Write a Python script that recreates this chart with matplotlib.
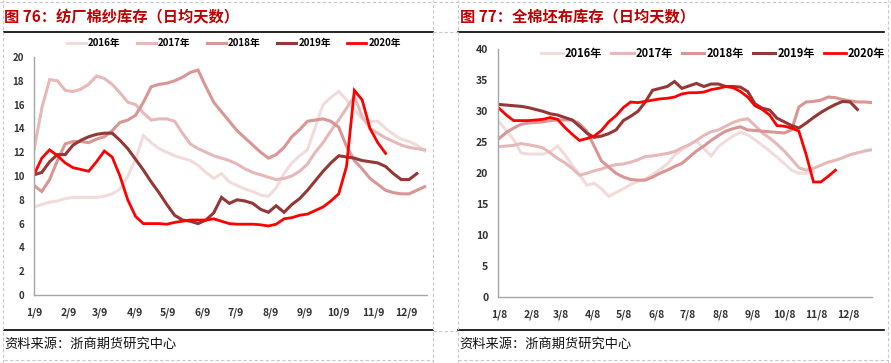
import matplotlib
matplotlib.use("Agg")
import matplotlib.pyplot as plt
from matplotlib.lines import Line2D
import numpy as np

plt.rcParams['font.family'] = ['Noto Sans CJK SC', 'DejaVu Sans']

# 图76 织厂棉纱库存，每周一个点，从 1/9 开始
yarn_2016 = [7.4, 7.6, 7.8, 7.9, 8.1, 8.2, 8.2, 8.2, 8.2, 8.3, 8.5, 8.9, 10.0, 11.4, 13.4, 12.8, 12.3, 12.0, 11.7, 11.5,
             11.3, 10.9, 10.3, 9.8, 10.2, 9.5, 9.2, 8.9, 8.7, 8.4, 8.3, 9.0, 10.2, 11.1, 11.7, 12.2, 14.1, 16.0, 16.6, 17.1,
             16.4, 15.6, 14.8, 14.6, 14.6, 14.0, 13.5, 13.1, 12.9, 12.6, 12.1]
yarn_2017 = [12.2, 15.7, 18.1, 18.0, 17.2, 17.1, 17.3, 17.7, 18.4, 18.2, 17.7, 17.0, 16.2, 16.0, 15.3, 14.7, 14.8, 14.8, 14.6, 13.6,
             12.7, 12.3, 12.0, 11.7, 11.5, 11.3, 11.0, 10.6, 10.3, 10.1, 9.9, 9.7, 9.8, 10.0, 10.4, 11.0, 12.0, 12.8, 13.8, 14.7,
             15.7, 16.7, 15.0, 14.0, 13.6, 13.2, 12.9, 12.6, 12.4, 12.3, 12.2]
yarn_2018 = [9.2, 8.7, 9.7, 11.3, 12.7, 12.9, 12.9, 12.8, 13.1, 13.3, 13.8, 14.5, 14.7, 15.1, 16.2, 17.5, 17.7, 17.8, 18.0, 18.3,
             18.7, 18.9, 17.5, 16.2, 15.4, 14.6, 13.8, 13.2, 12.6, 12.0, 11.5, 11.8, 12.4, 13.3, 13.9, 14.6, 14.7, 14.8, 14.6, 14.1,
             12.5, 11.3, 10.6, 9.8, 9.3, 8.8, 8.6, 8.5, 8.5, 8.8, 9.1]
yarn_2019 = [10.1, 10.3, 11.2, 11.8, 11.8, 12.6, 13.0, 13.3, 13.5, 13.6, 13.6, 13.0, 12.3, 11.4, 10.5, 9.5, 8.6, 7.6, 6.7, 6.3,
             6.2, 6.0, 6.3, 6.9, 8.2, 7.7, 8.0, 7.9, 7.7, 7.2, 6.95, 7.5, 6.95, 7.6, 8.1, 8.8, 9.6, 10.4, 11.1, 11.7,
             11.6, 11.5, 11.3, 11.2, 11.1, 10.8, 10.2, 9.7, 9.7, 10.2]
yarn_2020 = [10.1, 11.5, 12.2, 11.7, 11.1, 10.7, 10.55, 10.4, 11.2, 12.1, 11.6, 10.0, 8.0, 6.6, 6.0, 6.0, 6.0, 5.95, 6.1, 6.2,
             6.3, 6.3, 6.3, 6.4, 6.2, 6.0, 5.95, 5.95, 5.95, 5.9, 5.8, 5.95, 6.4, 6.5, 6.7, 6.8, 7.1, 7.4, 7.9, 8.5,
             10.8, 17.2, 16.4, 14.0, 12.8, 11.9]

# 图77 全棉坯布库存，每周一个点，从 1/8 开始
cloth_2016 = [28.3, 26.9, 25.4, 23.3, 23.1, 23.1, 23.1, 23.5, 24.4, 23.0, 21.3, 19.8, 18.1, 18.4, 17.5, 16.3, 16.9, 17.5, 18.2, 18.7,
              19.1, 19.8, 20.6, 21.5, 22.9, 23.8, 24.6, 25.2, 24.0, 22.8, 24.3, 25.2, 26.0, 26.6, 26.2, 25.4, 24.5, 23.6, 22.6, 21.6,
              20.5, 20.0, 20.0, 20.3]
cloth_2017 = [24.3, 24.4, 24.5, 24.8, 24.6, 24.4, 24.1, 23.3, 22.4, 21.7, 20.8, 19.7, 20.0, 20.4, 20.7, 21.1, 21.4, 21.5, 21.8, 22.2,
              22.7, 22.8, 23.0, 23.2, 23.5, 24.1, 24.6, 25.3, 26.1, 26.7, 27.0, 27.6, 28.2, 28.6, 28.8, 27.7, 26.5, 25.7, 24.7, 23.6,
              22.3, 20.9, 20.5, 20.8, 21.3, 21.8, 22.1, 22.5, 23.0, 23.3, 23.6, 23.8]
cloth_2018 = [25.6, 26.6, 27.3, 27.9, 28.1, 28.2, 28.3, 28.5, 28.6, 28.6, 28.6, 28.0, 26.8, 24.4, 22.0, 21.0, 20.0, 19.4, 19.0, 18.9,
              18.9, 19.4, 20.0, 20.5, 21.1, 21.6, 22.6, 23.6, 24.4, 25.3, 26.1, 26.8, 27.2, 27.5, 27.0, 26.9, 26.8, 26.7, 26.6, 26.5,
              27.0, 30.7, 31.5, 31.6, 31.8, 32.3, 32.2, 31.9, 31.7, 31.5, 31.5, 31.4]
cloth_2019 = [31.1, 31.0, 30.9, 30.8, 30.6, 30.3, 30.0, 29.6, 29.4, 29.0, 28.6, 27.6, 26.5, 25.8, 26.0, 26.4, 27.0, 28.5, 29.2, 30.0,
              31.5, 33.4, 33.7, 34.0, 34.8, 33.7, 34.1, 34.5, 34.0, 34.4, 34.4, 34.0, 34.0, 33.9, 33.2, 31.2, 30.5, 30.2, 28.9, 28.3,
              27.7, 27.3, 28.1, 29.0, 29.8, 30.5, 31.1, 31.6, 31.5, 30.3]
cloth_2020 = [30.5, 29.4, 28.5, 28.5, 28.5, 28.6, 28.7, 29.0, 28.7, 27.4, 26.3, 25.3, 25.6, 26.0, 26.9, 28.3, 29.3, 30.6, 31.5, 31.4,
              31.6, 31.8, 32.0, 32.1, 32.3, 32.8, 33.0, 33.0, 33.1, 33.5, 33.7, 34.0, 33.8, 33.2, 32.3, 30.9, 30.3, 29.4, 27.7, 27.6,
              27.3, 26.8, 23.0, 18.6, 18.6, 19.5, 20.5]

years = ["2016年", "2017年", "2018年", "2019年", "2020年"]
colors = ["#F2DCDB", "#E6B9B8", "#D99694", "#953735", "#FF0000"]
month_days = [0, 31, 59, 90, 120, 151, 181, 212, 243, 273, 304, 334]
labels_76 = ["1/9", "2/9", "3/9", "4/9", "5/9", "6/9", "7/9", "8/9", "9/9", "10/9", "11/9", "12/9"]
labels_77 = ["1/8", "2/8", "3/8", "4/8", "5/8", "6/8", "7/8", "8/8", "9/8", "10/8", "11/8", "12/8"]

W, H = 891, 363
fig = plt.figure(figsize=(W / 100, H / 100), dpi=100)


def fx(px):
    return px / W


def fy(py):
    return 1 - py / H


def draw_panel(rect, series, ylim, yticks, xlim, xlabels, ysize, xsize):
    ax = fig.add_axes(rect)
    handles = []
    for s, c in zip(series, colors):
        x = np.arange(len(s))
        lw = 2.0 if c == "#FF0000" else 2.2
        h, = ax.plot(x, s, color=c, lw=lw, solid_joinstyle='miter')
        handles.append(h)
    ax.set_xlim(*xlim)
    ax.set_ylim(*ylim)
    ax.set_yticks(yticks)
    ax.set_xticks(np.array(month_days) / 7)
    ax.set_xticklabels(xlabels)
    for sp in ["top", "right"]:
        ax.spines[sp].set_visible(False)
    for sp in ["left", "bottom"]:
        ax.spines[sp].set_color("#A6A6A6")
        ax.spines[sp].set_linewidth(1.0)
    ax.tick_params(axis='y', length=0, pad=7, labelsize=ysize, colors="#333333")
    ax.tick_params(axis='x', length=0, pad=9, labelsize=xsize, colors="#333333")
    for t in ax.get_xticklabels() + ax.get_yticklabels():
        t.set_fontweight("bold")
    return ax, handles


ax1, h1 = draw_panel([fx(34), fy(295), fx(427) - fx(34), fy(57) - fy(295)],
                     [yarn_2016, yarn_2017, yarn_2018, yarn_2019, yarn_2020],
                     (0, 20), range(0, 21, 2), (0, 50.3), labels_76, 7, 7.5)
ax2, h2 = draw_panel([fx(498), fy(297.3), fx(872) - fx(498), fy(49.3) - fy(297.3)],
                     [cloth_2016, cloth_2017, cloth_2018, cloth_2019, cloth_2020],
                     (0, 40), range(0, 41, 5), (-0.14, 51.0), labels_77, 7.5, 7.5)

leg1 = fig.legend(h1, years, loc='center', bbox_to_anchor=(fx(234), fy(43)), ncol=5, frameon=False,
                  handlelength=1.9, handletextpad=0.25, columnspacing=1.7,
                  prop={'size': 7, 'weight': 'bold'})
leg2 = fig.legend(h2, years, loc='center', bbox_to_anchor=(fx(713), fy(53)), ncol=5, frameon=False,
                  handlelength=2.0, handletextpad=0.2, columnspacing=0.8,
                  prop={'size': 8, 'weight': 'bold'})

# 标题
fig.text(fx(4), fy(17), "图 76：纺厂棉纱库存（日均天数）", color="#C00000", fontsize=11,
         fontweight="bold", va="center", ha="left")
fig.text(fx(460), fy(16), "图 77：全棉坯布库存（日均天数）", color="#C00000", fontsize=11,
         fontweight="bold", va="center", ha="left")

# 来源
fig.text(fx(4), fy(344), "资料来源：浙商期货研究中心", fontsize=9.5, va="center", ha="left", color="#111111")
fig.text(fx(459), fy(344), "资料来源：浙商期货研究中心", fontsize=9.5, va="center", ha="left", color="#111111")

# 黑色分隔线
for x0, x1 in [(4, 433), (458, 884)]:
    for y in (31.5, 330):
        fig.add_artist(Line2D([fx(x0), fx(x1)], [fy(y), fy(y)], color="black", lw=1.2))

# 虚线表格边框
dash = dict(color="#C8C8C8", lw=0.8, ls=(0, (3, 2)))
fig.add_artist(Line2D([0, 1], [fy(2), fy(2)], **dash))
fig.add_artist(Line2D([fx(4), fx(433)], [fy(360), fy(360)], **dash))
fig.add_artist(Line2D([fx(458), fx(888)], [fy(360), fy(360)], **dash))
for xv in (3, 433, 458, 888):
    fig.add_artist(Line2D([fx(xv), fx(xv)], [0, 1], **dash))
for yv in (31.5, 331):
    fig.add_artist(Line2D([fx(433), fx(458)], [fy(yv), fy(yv)], **dash))

fig.savefig("out.png", dpi=100)
